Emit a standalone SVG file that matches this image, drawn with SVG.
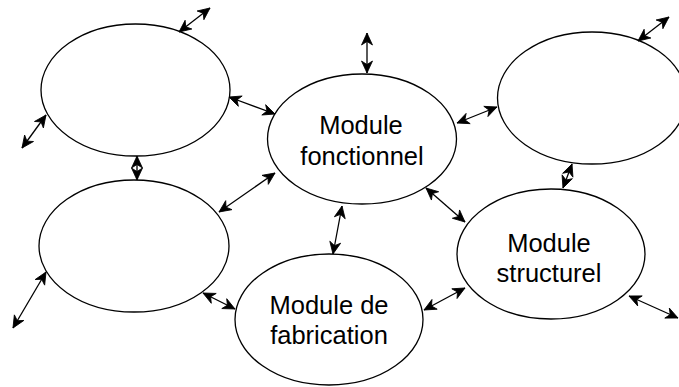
<svg xmlns="http://www.w3.org/2000/svg" width="679" height="387" viewBox="0 0 679 387">
<style>
.node ellipse{fill:#ffffff;stroke:#000000;stroke-width:1.3}
.node text{font-family:"Liberation Sans",Arial,Helvetica,sans-serif;font-size:25.5px;fill:#000000;text-anchor:middle}
.edges line{stroke:#000000;stroke-width:1.3;marker-start:url(#ah);marker-end:url(#ah)}
</style>
<defs>
<marker id="ah" markerUnits="userSpaceOnUse" markerWidth="13" markerHeight="12" refX="12" refY="5.5" orient="auto-start-reverse" overflow="visible">
<path d="M0,0 L12,5.5 L0,11 L3.5,5.5 Z" fill="#000000" stroke="#000000" stroke-width="0.8" stroke-linejoin="miter"/>
</marker>
</defs>
<rect width="679" height="387" fill="#ffffff"/>
<g id="n-topleft" class="node"><ellipse cx="135.5" cy="90" rx="94.5" ry="66"/></g>
<g id="n-fonctionnel" class="node"><ellipse cx="362" cy="139" rx="94.5" ry="65"/><text x="361" y="133.5">Module</text><text x="362" y="164.5">fonctionnel</text></g>
<g id="n-topright" class="node"><ellipse cx="592" cy="98" rx="94.5" ry="66"/></g>
<g id="n-lowerleft" class="node"><ellipse cx="134" cy="246" rx="95" ry="66"/></g>
<g id="n-fabrication" class="node"><ellipse cx="329" cy="319.5" rx="94" ry="65.5"/><text x="329" y="313.5">Module de</text><text x="329" y="344">fabrication</text></g>
<g id="n-structurel" class="node"><ellipse cx="551" cy="254" rx="94" ry="65"/><text x="549" y="252">Module</text><text x="549" y="282">structurel</text></g>
<g id="edges" class="edges">
<line x1="179" y1="32" x2="210" y2="8"/>
<line x1="46" y1="115" x2="22" y2="148"/>
<line x1="229" y1="97" x2="275" y2="114"/>
<line x1="367" y1="33" x2="367" y2="73"/>
<line x1="137" y1="156" x2="137" y2="180"/>
<line x1="457" y1="123" x2="497" y2="107"/>
<line x1="638" y1="41" x2="669" y2="17"/>
<line x1="572" y1="164" x2="563" y2="188"/>
<line x1="275" y1="173" x2="219" y2="212"/>
<line x1="342" y1="206" x2="333" y2="254"/>
<line x1="426" y1="188" x2="465" y2="222"/>
<line x1="203" y1="293" x2="235" y2="309"/>
<line x1="424" y1="310" x2="465" y2="288"/>
<line x1="46" y1="272" x2="13" y2="328"/>
<line x1="629" y1="296" x2="678" y2="318"/>
</g>
</svg>
